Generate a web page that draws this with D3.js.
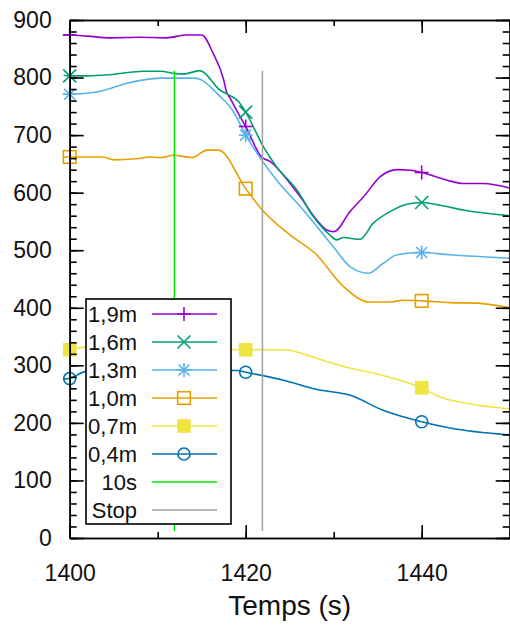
<!DOCTYPE html>
<html>
<head>
<meta charset="utf-8">
<script src="https://cdn.jsdelivr.net/npm/d3@7"></script>
<style>
  html, body { margin: 0; padding: 0; background: #fff; }
  svg { display: block; font-family: "Liberation Sans", Arial, sans-serif; }
</style>
</head>
<body>
<svg id="chart" width="510" height="625"></svg>
<script>
// Measured temperature by depth, [time (s), value]
const serie19m = [[1399.3, 874], [1400, 874], [1402, 872], [1404.6, 869], [1408, 870], [1411, 869], [1413.3, 874], [1415, 874],
  [1416.3, 842], [1417.5, 796], [1417.8, 776], [1418.2, 765], [1419, 742], [1420, 715], [1421.8, 662], [1422.8, 654],
  [1425, 617], [1426.2, 593], [1428.1, 552], [1429.2, 535], [1430, 532], [1431.9, 568], [1433.4, 593], [1435.3, 628],
  [1437.2, 640], [1438.7, 639], [1440, 635], [1442.8, 622], [1444.7, 616], [1447, 616], [1450, 608]];
const serie16m = [[1399.3, 804], [1400, 803], [1402, 803], [1404.6, 805], [1408.4, 811], [1410.3, 811], [1412, 807], [1412.9, 806],
  [1414.8, 812], [1417.1, 778], [1417.8, 772], [1419.2, 758], [1420, 740], [1422, 680], [1423.5, 645], [1425.8, 605],
  [1427.7, 558], [1429.6, 526], [1430.3, 518], [1431.1, 522], [1433, 519], [1434.5, 547], [1436.4, 567], [1438.3, 580],
  [1440, 583], [1442.1, 578], [1444.7, 570], [1450, 560]];
const serie13m = [[1399.3, 772], [1400, 771], [1402.7, 774], [1404.6, 781], [1406.5, 790], [1408.4, 796], [1410.3, 799], [1414, 799],
  [1414.8, 797], [1416.9, 770], [1418.6, 741], [1420, 700], [1421.8, 657], [1423.5, 622], [1426.2, 576], [1428.1, 541],
  [1430, 505], [1431.9, 471], [1433.9, 460], [1435.6, 477], [1437.2, 492], [1440, 496], [1443.2, 492], [1450, 486]];
const serie10m = [[1399.3, 662], [1400, 662], [1403.8, 662], [1405, 657], [1407.6, 659], [1409.1, 662], [1410.3, 661], [1411.8, 665],
  [1413.9, 661], [1415.6, 674], [1416.9, 674], [1420, 607], [1421.7, 573], [1425, 527], [1428, 493], [1431.1, 437],
  [1434.1, 410], [1436.4, 410], [1437.9, 413], [1440, 412], [1443.2, 409], [1446.3, 408], [1450, 400]];
const serie07m = [[1399.3, 326], [1400, 327], [1402, 332], [1410, 330], [1417, 328], [1420, 327], [1424.3, 327], [1428.1, 312],
  [1431.9, 295], [1434.9, 285], [1436.8, 277], [1440, 261], [1442.1, 245], [1445.1, 234], [1450, 224]];
const serie04m = [[1399.3, 276], [1400, 277], [1401.8, 289], [1410, 292], [1419, 291], [1420, 288], [1424.3, 274], [1428.1, 258],
  [1431.9, 248], [1435.6, 222], [1440, 202], [1443.2, 191], [1450, 179]];

// Reference instants: [time, from value, to value]
const ligne10s = [1411.9, 12, 812];
const ligneStop = [1421.9, 12, 812];

const markerTimes = [1400, 1420, 1440];
const xTicks = [1400, 1420, 1440];
const xMinorTicks = [1400, 1410, 1420, 1430, 1440, 1450];
const yTicks = [0, 100, 200, 300, 400, 500, 600, 700, 800, 900];
const yMinorTicks = d3.range(0, 901, 20);
const xTitle = "Temps (s)";

const series = [
  { label: "1,9m", color: "#9400d3", marker: "plus", data: serie19m },
  { label: "1,6m", color: "#009e73", marker: "cross", data: serie16m },
  { label: "1,3m", color: "#56b4e9", marker: "star", data: serie13m },
  { label: "1,0m", color: "#e69f00", marker: "square", data: serie10m },
  { label: "0,7m", color: "#f0e442", marker: "squareFilled", data: serie07m },
  { label: "0,4m", color: "#0072b2", marker: "circle", data: serie04m }
];
const verticals = [
  { label: "10s", color: "#00e600", data: ligne10s },
  { label: "Stop", color: "#a0a0a0", data: ligneStop }
];

const svg = d3.select("#chart");
const plotLeft = 69.7, plotRight = 509.7, plotTop = 20, plotBottom = 538;

const x = d3.scaleLinear().domain([1400, 1450]).range([plotLeft, plotRight]);
const y = d3.scaleLinear().domain([0, 900]).range([plotBottom, plotTop]);

function drawMarker(g, type, cx, cy, color) {
  const s = 7;
  if (type === "plus" || type === "star") {
    g.append("line").attr("x1", cx - s).attr("x2", cx + s).attr("y1", cy).attr("y2", cy);
    g.append("line").attr("x1", cx).attr("x2", cx).attr("y1", cy - s).attr("y2", cy + s);
  }
  if (type === "cross" || type === "star") {
    const d = type === "star" ? 5.5 : 6.5;
    g.append("line").attr("x1", cx - d).attr("x2", cx + d).attr("y1", cy - d).attr("y2", cy + d);
    g.append("line").attr("x1", cx - d).attr("x2", cx + d).attr("y1", cy + d).attr("y2", cy - d);
  }
  if (type === "square") {
    g.append("rect").attr("x", cx - 6.3).attr("y", cy - 6.3).attr("width", 12.6).attr("height", 12.6)
      .attr("fill", "none");
  }
  if (type === "squareFilled") {
    g.append("rect").attr("x", cx - 6.8).attr("y", cy - 6.8).attr("width", 13.6).attr("height", 13.6)
      .attr("fill", color).attr("stroke", "none");
  }
  if (type === "circle") {
    g.append("circle").attr("cx", cx).attr("cy", cy).attr("r", 6).attr("fill", "none");
  }
  g.selectAll("line, rect, circle").filter(function () { return !this.getAttribute("stroke"); })
    .attr("stroke", color).attr("stroke-width", 1.6);
}

// Curves
const line = d3.line().x(d => x(d[0])).y(d => y(d[1])).curve(d3.curveMonotoneX);
const plot = svg.append("g");
series.forEach(s => {
  plot.append("path").datum(s.data).attr("d", line)
    .attr("fill", "none").attr("stroke", s.color).attr("stroke-width", 1.6).attr("stroke-linejoin", "round");
});
// Vertical markers for the instants
verticals.forEach(v => {
  plot.append("line")
    .attr("x1", x(v.data[0])).attr("x2", x(v.data[0]))
    .attr("y1", y(v.data[1])).attr("y2", y(v.data[2]))
    .attr("stroke", v.color).attr("stroke-width", 1.5);
});
// Point symbols
series.forEach(s => {
  const g = plot.append("g");
  markerTimes.forEach(t => {
    const p = s.data.find(d => d[0] === t);
    if (p) drawMarker(g, s.marker, x(p[0]), y(p[1]), s.color);
  });
});

// Axes on all four borders, ticks pointing inward
function styleAxis(g) {
  g.selectAll("path.domain").attr("stroke", "#000").attr("stroke-width", 1.6);
  g.selectAll(".tick line").attr("stroke", "#000").attr("stroke-width", 1.6);
  g.selectAll(".tick text").attr("fill", "#111").style("font-size", "23px")
    .style("font-family", "'Liberation Sans', Arial, sans-serif");
}
svg.append("g").attr("transform", `translate(0,${plotBottom})`)
  .call(d3.axisBottom(x).tickValues(xMinorTicks).tickSizeInner(-6).tickSizeOuter(0).tickFormat(""))
  .call(styleAxis);
svg.append("g").attr("transform", `translate(0,${plotBottom})`)
  .call(d3.axisBottom(x).tickValues(xTicks).tickSizeInner(-13).tickSizeOuter(0).tickPadding(27).tickFormat(d3.format("d")))
  .call(styleAxis);
svg.append("g").attr("transform", `translate(0,${plotTop})`)
  .call(d3.axisTop(x).tickValues(xMinorTicks).tickSizeInner(-6).tickSizeOuter(0).tickFormat(""))
  .call(styleAxis);
svg.append("g").attr("transform", `translate(0,${plotTop})`)
  .call(d3.axisTop(x).tickValues(xTicks).tickSizeInner(-13).tickSizeOuter(0).tickFormat(""))
  .call(styleAxis);
svg.append("g").attr("transform", `translate(${plotLeft},0)`)
  .call(d3.axisLeft(y).tickValues(yMinorTicks).tickSizeInner(-7).tickSizeOuter(0).tickFormat(""))
  .call(styleAxis);
svg.append("g").attr("transform", `translate(${plotLeft},0)`)
  .call(d3.axisLeft(y).tickValues(yTicks).tickSizeInner(-14).tickSizeOuter(0).tickPadding(18).tickFormat(d3.format("d")))
  .call(styleAxis);
svg.append("g").attr("transform", `translate(${plotRight},0)`)
  .call(d3.axisRight(y).tickValues(yMinorTicks).tickSizeInner(-7).tickSizeOuter(0).tickFormat(""))
  .call(styleAxis);
svg.append("g").attr("transform", `translate(${plotRight},0)`)
  .call(d3.axisRight(y).tickValues(yTicks).tickSizeInner(-14).tickSizeOuter(0).tickFormat(""))
  .call(styleAxis);

// Axis title
svg.append("text").attr("x", (plotLeft + plotRight) / 2).attr("y", 615)
  .attr("text-anchor", "middle").attr("fill", "#111").style("font-size", "28px").text(xTitle);

// Legend
const lg = svg.append("g");
lg.append("rect").attr("x", 86).attr("y", 299).attr("width", 145).attr("height", 225)
  .attr("fill", "#fff").attr("stroke", "#000").attr("stroke-width", 1.6);
const entries = series.concat(verticals.map(v => ({ label: v.label, color: v.color, marker: null })));
entries.forEach((e, i) => {
  const cy = 314 + i * 28;
  lg.append("text").attr("x", 137).attr("y", cy).attr("dy", "0.36em").attr("text-anchor", "end")
    .attr("fill", "#111").style("font-size", "22px").text(e.label);
  lg.append("line").attr("x1", 152).attr("x2", 217).attr("y1", cy).attr("y2", cy)
    .attr("stroke", e.color).attr("stroke-width", 1.6);
  if (e.marker) drawMarker(lg.append("g"), e.marker, 184, cy, e.color);
});
</script>
</body>
</html>
